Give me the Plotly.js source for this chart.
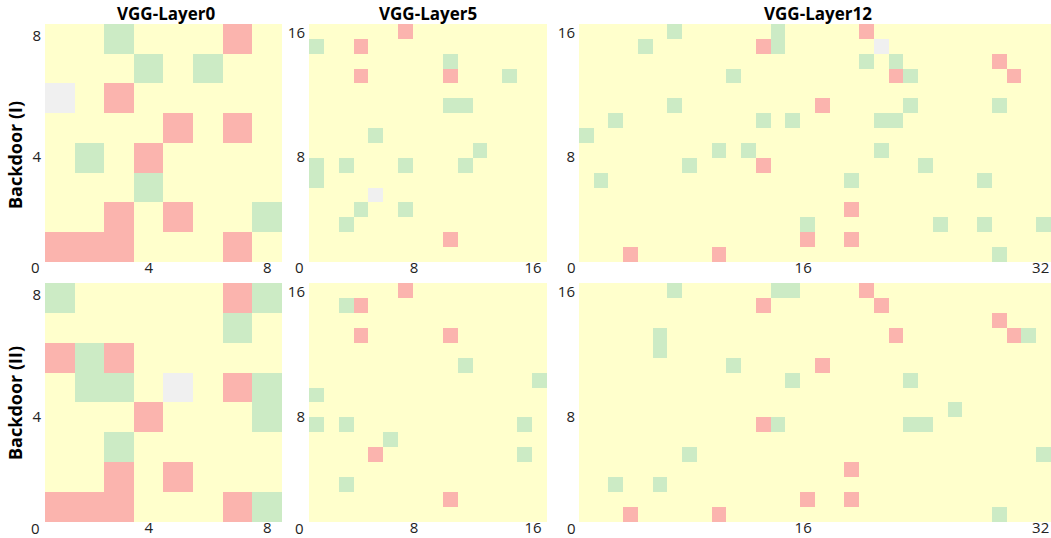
<!DOCTYPE html>
<html>
<head>
<meta charset="utf-8">
<script src="https://cdn.plot.ly/plotly-3.0.1.min.js"></script>
<style>html,body{margin:0;padding:0;background:#fff;}#chart{width:1051px;height:538px;}</style>
</head>
<body>
<div id="chart"></div>
<script>
// Cell codes: 0 = yellow, 1 = green, 2 = red, 3 = grey. Rows listed from top (highest index) to bottom.
const layer0_I = [
  "00100020",
  "00010100",
  "30200000",
  "00002020",
  "01020000",
  "00010000",
  "00202001",
  "22200020"
];
const layer0_II = [
  "10000021",
  "00000010",
  "21200000",
  "01103021",
  "00020001",
  "00100000",
  "00202000",
  "22200021"
];
const layer5_I = [
  "00000020 00000000",
  "10020000 00000000",
  "00000000 01000000",
  "00020000 02000100",
  "00000000 00000000",
  "00000000 01100000",
  "00000000 00000000",
  "00001000 00000000",
  "00000000 00010000",
  "10100010 00100000",
  "10000000 00000000",
  "00003000 00000000",
  "00010010 00000000",
  "00100000 00000000",
  "00000000 02000000",
  "00000000 00000000"
];
const layer5_II = [
  "00000020 00000000",
  "00120000 00000000",
  "00000000 00000000",
  "00020000 02000000",
  "00000000 00000000",
  "00000000 00100000",
  "00000000 00000001",
  "10000000 00000000",
  "00000000 00000000",
  "10100000 00000010",
  "00000100 00000000",
  "00002000 00000010",
  "00000000 00000000",
  "00100000 00000000",
  "00000000 02000000",
  "00000000 00000000"
];
const layer12_I = [
  "00000010 00000100 00020000 00000000",
  "00001000 00002100 00003000 00000000",
  "00000000 00000000 00010100 00002000",
  "00000000 00100000 00000210 00000200",
  "00000000 00000000 00000000 00000000",
  "00000010 00000000 20000010 00001000",
  "00100000 00001010 00001100 00000000",
  "10000000 00000000 00000000 00000000",
  "00000000 01010000 00001000 00000000",
  "00000001 00002000 00000001 00000000",
  "01000000 00000000 00100000 00010000",
  "00000000 00000000 00000000 00000000",
  "00000000 00000000 00200000 00000000",
  "00000000 00000001 00000000 10010001",
  "00000000 00000002 00200000 00000000",
  "00020000 02000000 00000000 00001000"
];
const layer12_II = [
  "00000010 00000110 00020000 00000000",
  "00000000 00002000 00002000 00000000",
  "00000000 00000000 00000000 00002000",
  "00000100 00000000 00000200 00000210",
  "00000100 00000000 00000000 00000000",
  "00000000 00100000 20000000 00000000",
  "00000000 00000010 00000010 00000000",
  "00000000 00000000 00000000 00000000",
  "00000000 00000000 00000000 01000000",
  "00000000 00002100 00000011 00000000",
  "00000000 00000000 00000000 00000000",
  "00000001 00000000 00000000 00000001",
  "00000000 00000000 00200000 00000000",
  "00100100 00000000 00000000 00000000",
  "00000000 00000002 00200000 00000000",
  "00020000 02000000 00000000 00001000"
];
const colTitles = ["VGG-Layer0", "VGG-Layer5", "VGG-Layer12"];
const rowTitles = ["Backdoor (I)", "Backdoor (II)"];
const xTickText = [["4", "8"], ["8", "16"], ["16", "32"]];
const yTickText = [["4", "8"], ["8", "16"], ["8", "16"]];
const xTickPos = [[3, 7], [6.56, 14.56], [14.7, 30.8]];
const yTickPos = [[3.03, 7.1], [6.56, 14.9], [6.56, 14.9]];
const palette = ["#ffffcc", "#ccebc5", "#fbb4ae", "#f0f0f0"];

function toZ(rows) {
  return rows.map(r => r.replace(/ /g, "").split("").map(Number)).reverse();
}
const panels = [layer0_I, layer5_I, layer12_I, layer0_II, layer5_II, layer12_II];
const colorscale = [
  [0, palette[0]], [0.1667, palette[0]],
  [0.1667, palette[1]], [0.5, palette[1]],
  [0.5, palette[2]], [0.8333, palette[2]],
  [0.8333, palette[3]], [1, palette[3]]
];
const xDomains = [[0.0428, 0.2683], [0.2940, 0.5205], [0.5509, 1.0]];
const yDomains = [[0.513, 0.9554], [0.0297, 0.474]];
const FONT = '"Segoe UI", "Open Sans", "Noto Sans", sans-serif';

const data = [];
const layout = {
  width: 1051, height: 538,
  margin: {l: 0, r: 0, t: 0, b: 0, pad: 0},
  paper_bgcolor: "#ffffff", plot_bgcolor: "#ffffff",
  showlegend: false,
  font: {family: FONT, size: 15, color: "#222"},
  annotations: []
};
panels.forEach((rows, i) => {
  const z = toZ(rows);
  const n = z.length;
  const col = i % 3, row = Math.floor(i / 3);
  const sfx = i === 0 ? "" : String(i + 1);
  data.push({
    type: "heatmap", z: z,
    x: Array.from({length: z[0].length}, (_, k) => k),
    y: Array.from({length: n}, (_, k) => k),
    xaxis: "x" + sfx, yaxis: "y" + sfx,
    zmin: 0, zmax: 3, colorscale: colorscale, showscale: false,
    hoverinfo: "skip"
  });
  layout["xaxis" + sfx] = {
    domain: xDomains[col], anchor: "y" + sfx,
    range: [-0.5, z[0].length - 0.5],
    showgrid: false, zeroline: false, showline: false, ticks: "",
    tickmode: "array", tickvals: xTickPos[col], ticktext: xTickText[col],
    tickfont: {family: FONT, size: 15, color: "#222"},
    ticklabelstandoff: -5, fixedrange: true
  };
  layout["yaxis" + sfx] = {
    domain: yDomains[row], anchor: "x" + sfx,
    range: [-0.5, n - 0.5],
    showgrid: false, zeroline: false, showline: false, ticks: "",
    tickmode: "array", tickvals: yTickPos[col], ticktext: yTickText[col],
    tickfont: {family: FONT, size: 15, color: "#222"},
    ticklabelstandoff: 3, fixedrange: true
  };
});
// corner "0" labels
const zeroX = [0.0338, 0.2854, 0.5433];
const zeroY = [0.5037, 0.0186];
zeroY.forEach(yy => zeroX.forEach(xx => {
  layout.annotations.push({text: "0", xref: "paper", yref: "paper", x: xx, y: yy,
    xanchor: "center", yanchor: "middle", showarrow: false,
    font: {family: FONT, size: 15, color: "#222"}});
}));
const titleX = [0.158, 0.407, 0.778];
colTitles.forEach((t, k) => layout.annotations.push({
  text: "<b>" + t + "</b>", xref: "paper", yref: "paper", x: titleX[k], y: 0.9758,
  xanchor: "center", yanchor: "middle", showarrow: false,
  font: {family: FONT, size: 17, color: "#000"}
}));
const rowY = [0.712, 0.251];
rowTitles.forEach((t, k) => layout.annotations.push({
  text: "<b>" + t + "</b>", xref: "paper", yref: "paper", x: 0.0143, y: rowY[k],
  xanchor: "center", yanchor: "middle", textangle: -90, showarrow: false,
  font: {family: FONT, size: 18, color: "#000"}
}));

Plotly.newPlot("chart", data, layout, {displayModeBar: false, staticPlot: true});
</script>
</body>
</html>
